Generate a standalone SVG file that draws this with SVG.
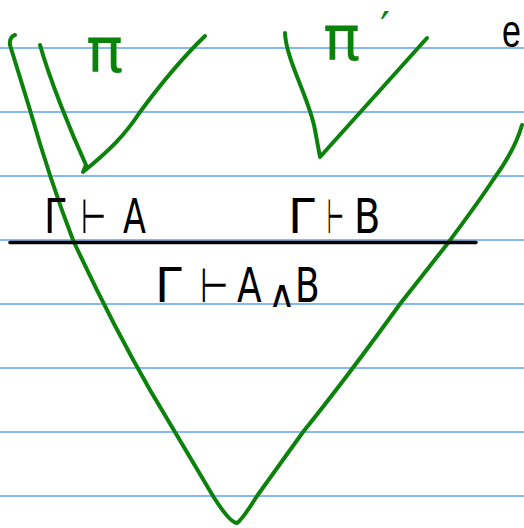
<svg xmlns="http://www.w3.org/2000/svg" width="524" height="528" viewBox="0 0 524 528">
<style>
.rule{stroke:#86b9f4;stroke-width:2}
.g{fill:none;stroke:#0b830b;stroke-width:4;stroke-linecap:round;stroke-linejoin:round}
.t{font-family:"DejaVu Sans",sans-serif;font-size:48px;fill:#000}
.gt{font-family:"DejaVu Sans",sans-serif;fill:#0b830b}
</style>
<rect width="524" height="528" fill="#fff"/>
<g id="ruling">
<line class="rule" x1="0" y1="48" x2="524" y2="48"/>
<line class="rule" x1="0" y1="112" x2="524" y2="112"/>
<line class="rule" x1="0" y1="176" x2="524" y2="176"/>
<line class="rule" x1="0" y1="240" x2="524" y2="240"/>
<line class="rule" x1="0" y1="304" x2="524" y2="304"/>
<line class="rule" x1="0" y1="368" x2="524" y2="368"/>
<line class="rule" x1="0" y1="432" x2="524" y2="432"/>
<line class="rule" x1="0" y1="496" x2="524" y2="496"/>
</g>
<g id="tree-e">
<path class="g" d="M15,35 Q9,37 10,45 L30,110 Q50,180 73,240 Q110,320 150,390 L213,496 Q230,523 237,523 Q242,520 257,496 L303,432 Q345,380 400,304 L448,243 Q480,200 493,180 Q515,150 522,125"/>
<text transform="translate(502,47) scale(0.85,1.15)" font-family="Liberation Sans, sans-serif" font-size="40" fill="#000">e</text>
</g>
<g id="tree-pi">
<path class="g" d="M40,45 C50,80 70,130 86,165 L83,172 C110,150 125,135 140,112 C160,85 180,60 205,36"/>
<text class="gt" x="86" y="72" font-size="62">π</text>
</g>
<g id="tree-pi-prime">
<path class="g" d="M285,33 C286,60 310,100 315,130 L320,157 L427,38"/>
<text class="gt" font-size="62"><tspan x="323" y="60">π</tspan><tspan x="380" y="44" font-size="44">′</tspan></text>
</g>
<g id="rule-line">
<line x1="10" y1="242.5" x2="476" y2="242.5" stroke="#000" stroke-width="3.5" stroke-linecap="round"/>
</g>
<g id="premise-A">
<text class="t" transform="translate(44,233) scale(0.8,1)">Γ</text>
<text class="t" transform="translate(81,233) scale(0.6,1)">⊢</text>
<text class="t" transform="translate(123,233) scale(0.7,1)">A</text>
</g>
<g id="premise-B">
<text class="t" transform="translate(288,233)">Γ</text>
<text class="t" transform="translate(327,233) scale(0.4,1)">⊢</text>
<text class="t" transform="translate(354,233) scale(0.8,1)">B</text>
</g>
<g id="conclusion">
<text class="t" transform="translate(155,302)">Γ</text>
<text class="t" transform="translate(200,302) scale(0.68,1)">⊢</text>
<text class="t" transform="translate(237,302) scale(0.75,1)">A</text>
<text class="t" style="font-size:38px" transform="translate(268,307)">∧</text>
<text class="t" transform="translate(295,302) scale(0.75,1)">B</text>
</g>
</svg>
